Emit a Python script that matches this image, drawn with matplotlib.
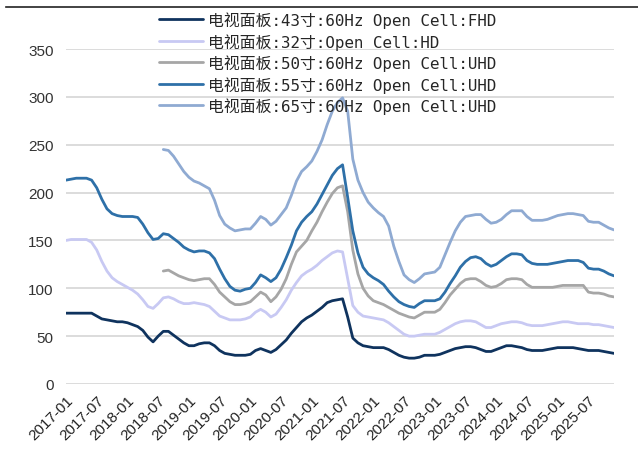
import numpy as np
import pandas as pd
import matplotlib
matplotlib.use("Agg")
import matplotlib.pyplot as plt
from matplotlib.lines import Line2D

# 面板月度价格（美元/片），2017-01 至 2025-12
months = pd.period_range("2017-01", "2025-12", freq="M")

p43 = [74, 74, 74, 74, 74, 74, 71, 68, 67, 66, 65, 65, 64, 62, 60, 56, 49, 44,
       50, 55, 55, 51, 47, 43, 40, 40, 42, 43, 43, 40, 35, 32, 31, 30, 30, 30,
       31, 35, 37, 35, 33, 36, 41, 46, 53, 59, 65, 69, 72, 76, 80, 85, 87, 88,
       89, 70, 48, 43, 40, 39, 38, 38, 38, 36, 33, 30, 28, 27, 27, 28, 30, 30,
       30, 31, 33, 35, 37, 38, 39, 39, 38, 36, 34, 34, 36, 38, 40, 40, 39, 38,
       36, 35, 35, 35, 36, 37, 38, 38, 38, 38, 37, 36, 35, 35, 35, 34, 33, 32]

p32 = [150, 151, 151, 151, 151, 148, 140, 128, 118, 111, 107, 104, 101, 98, 94,
       88, 81, 79, 84, 90, 91, 89, 86, 84, 84, 85, 84, 83, 81, 76, 71, 69, 67,
       67, 67, 68, 70, 75, 78, 75, 70, 73, 80, 88, 98, 106, 113, 117, 120, 124,
       129, 133, 137, 139, 138, 110, 82, 75, 71, 70, 69, 68, 67, 64, 60, 56, 52,
       50, 50, 51, 52, 52, 52, 54, 57, 60, 63, 65, 66, 66, 65, 62, 59, 59, 61,
       63, 64, 65, 65, 64, 62, 61, 61, 61, 62, 63, 64, 65, 65, 64, 63, 63, 63,
       62, 62, 61, 60, 59]

p50 = [None] * 19 + [
    118, 119, 116, 113, 111, 109, 108, 109, 110, 110, 104, 96, 91, 86, 83, 83,
    84, 86, 91, 96, 93, 86, 91, 99, 110, 125, 138, 144, 150, 160, 169, 180,
    190, 199, 205, 207, 180, 140, 115, 100, 92, 87, 85, 83, 80, 77, 74, 72, 70,
    69, 72, 75, 75, 75, 78, 85, 93, 99, 105, 109, 110, 110, 107, 103, 101, 102,
    105, 109, 110, 110, 109, 104, 101, 101, 101, 101, 101, 102, 103, 103, 103,
    103, 103, 96, 95, 95, 94, 92, 91]

p55 = [213, 214, 215, 215, 215, 213, 205, 193, 183, 178, 176, 175, 175, 175,
       174, 167, 158, 151, 152, 157, 156, 152, 148, 143, 140, 138, 139, 139, 137,
       131, 120, 110, 102, 98, 97, 99, 100, 106, 114, 111, 107, 111, 120, 132,
       145, 160, 169, 175, 180, 188, 198, 208, 218, 225, 229, 195, 160, 137, 122,
       115, 111, 108, 104, 97, 91, 86, 83, 81, 80, 84, 87, 87, 87, 89, 96, 105,
       113, 122, 128, 132, 133, 131, 126, 123, 125, 129, 133, 136, 136, 135, 129,
       126, 125, 125, 125, 126, 127, 128, 129, 129, 129, 127, 121, 120, 120, 118,
       115, 113]

p65 = [None] * 19 + [
    245, 244, 238, 230, 222, 216, 212, 210, 207, 204, 192, 176, 167, 163, 160,
    161, 162, 162, 168, 175, 172, 166, 170, 177, 184, 197, 212, 222, 227, 233,
    243, 255, 271, 285, 294, 299, 285, 235, 213, 200, 190, 184, 179, 175, 165,
    144, 128, 114, 109, 106, 110, 115, 116, 117, 122, 135, 148, 160, 169, 175,
    176, 177, 177, 172, 168, 169, 172, 177, 181, 181, 181, 175, 171, 171, 171,
    172, 174, 176, 177, 178, 178, 177, 176, 170, 169, 169, 166, 163, 161]

labels = [
    "电视面板:43寸:60Hz Open Cell:FHD",
    "电视面板:32寸:Open Cell:HD",
    "电视面板:50寸:60Hz Open Cell:UHD",
    "电视面板:55寸:60Hz Open Cell:UHD",
    "电视面板:65寸:60Hz Open Cell:UHD",
]
colors = ["#0F335E", "#C8C9F3", "#A6A6A6", "#2E70A8", "#8FAAD2"]

df = pd.DataFrame(
    {lab: pd.to_numeric(pd.Series(v), errors="coerce")
     for lab, v in zip(labels, [p43, p32, p50, p55, p65])}
)
df.index = np.arange(len(months))

plt.rcParams["font.family"] = ["Liberation Sans", "Noto Sans CJK SC"]

fig = plt.figure(figsize=(6.38, 4.56), dpi=100)
ax = fig.add_axes([66 / 638, 1 - 385 / 456, (614 - 66) / 638, (385 - 50) / 456])

for lab, c in zip(labels, colors):
    ax.plot(df.index, df[lab], color=c, lw=2.0, label=lab,
            solid_capstyle="round", solid_joinstyle="round")

ax.set_xlim(0, len(months) - 1)
ax.set_ylim(0, 350)
ax.set_yticks(np.arange(0, 351, 50))
ax.tick_params(axis="y", length=0, labelsize=11, pad=9, colors="#333333")

tick_pos = np.arange(0, len(months), 6)
ax.set_xticks(tick_pos)
ax.set_xticklabels([str(months[i]) for i in tick_pos], rotation=45,
                   ha="right", rotation_mode="anchor")
ax.tick_params(axis="x", length=0, labelsize=11, pad=6, colors="#222222")

ax.grid(axis="y", color="#D9D9D9", lw=1.3)
ax.set_axisbelow(True)
for s in ax.spines.values():
    s.set_visible(False)

# 图例无边框，网格线透出
leg = fig.legend(loc="upper left", bbox_to_anchor=(0.2395, 0.987),
                 frameon=False, handlelength=2.75, handletextpad=0.32,
                 labelspacing=0.3, borderaxespad=0,
                 prop={"family": ["DejaVu Sans Mono", "Noto Sans CJK SC"],
                       "size": 11.4})
for t in leg.get_texts():
    t.set_color("#262626")

# 顶部分隔线
fig.add_artist(Line2D([6 / 638, 1], [1 - 8 / 456, 1 - 8 / 456],
                      transform=fig.transFigure, color="#222222", lw=1.2))

fig.savefig("out.png", dpi=100)
